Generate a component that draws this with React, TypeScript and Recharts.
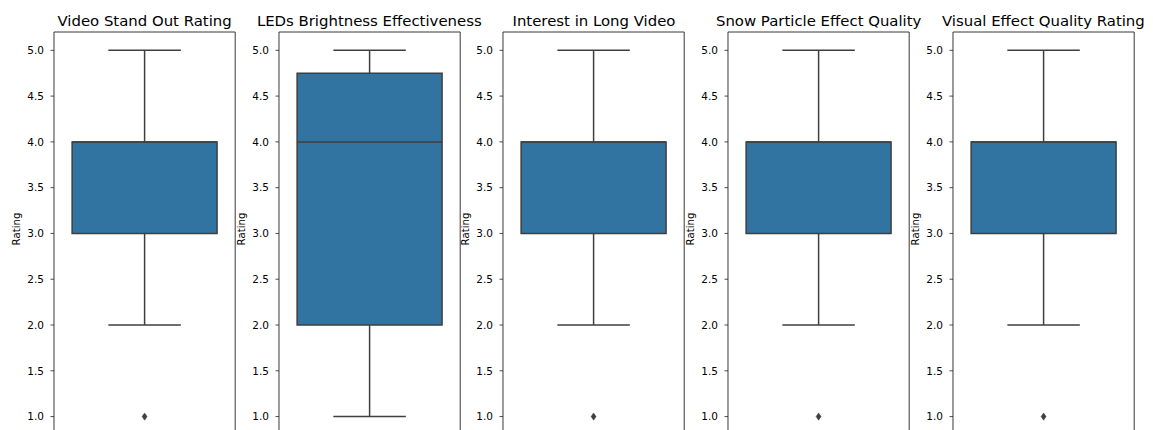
import React from 'react';
import { ComposedChart, XAxis, YAxis, ReferenceArea, ReferenceLine, Scatter } from 'recharts';

const titles = [
  'Video Stand Out Rating',
  'LEDs Brightness Effectiveness',
  'Interest in Long Video',
  'Snow Particle Effect Quality',
  'Visual Effect Quality Rating',
];
const whiskerLow = [2, 1, 2, 2, 2];
const q1 = [3, 2, 3, 3, 3];
const median = [4, 4, 4, 4, 4];
const q3 = [4, 4.75, 4, 4, 4];
const whiskerHigh = [5, 5, 5, 5, 5];
const outliers: number[][] = [[1], [], [1], [1], [1]];
const yTicks = [1.0, 1.5, 2.0, 2.5, 3.0, 3.5, 4.0, 4.5, 5.0];
const yDomain: [number, number] = [0.8, 5.2];

const FONT = '"DejaVu Sans", sans-serif';
const BOX_FILL = '#3274a1';
const LINE = '#3f3f3f';

const PANEL_LEFT0 = 54;
const PANEL_STEP = 224.7;
const PANEL_W = 181.2;
const AXIS_W = 54;
const TOP = 32;
const CHART_H = 460;
const PLOT_BOTTOM = 434.9;

const Diamond = (props: any) => {
  const { cx, cy } = props;
  if (cx == null || cy == null) return null;
  const w = 2.5;
  const h = 3.6;
  return (
    <path
      d={`M${cx},${cy - h} L${cx + w},${cy} L${cx},${cy + h} L${cx - w},${cy} Z`}
      fill={LINE}
      stroke={LINE}
      strokeWidth={0.5}
    />
  );
};

const RatingLabel = (props: any) => {
  const vb = props.viewBox || {};
  const cx = 17;
  const cy = (vb.y ?? TOP) + (vb.height ?? 400) / 2 - 4.5;
  return (
    <text
      x={cx}
      y={cy}
      transform={`rotate(-90 ${cx} ${cy})`}
      textAnchor="middle"
      dominantBaseline="central"
      fontFamily={FONT}
      fontSize={10.2}
      fill="#000"
    >
      Rating
    </text>
  );
};

function Panel({ i }: { i: number }) {
  const left = PANEL_LEFT0 + i * PANEL_STEP - AXIS_W;
  const width = AXIS_W + PANEL_W + 6;
  const outData = outliers[i].map((v) => ({ x: 0, y: v }));
  return (
    <div style={{ position: 'absolute', left, top: 0, width, height: CHART_H }}>
      <div
        style={{
          position: 'absolute',
          left: AXIS_W - 40,
          width: PANEL_W + 80,
          top: 12,
          textAlign: 'center',
          fontFamily: FONT,
          fontSize: 14.9,
          color: '#000',
          whiteSpace: 'nowrap',
          lineHeight: '18px',
        }}
      >
        {titles[i]}
      </div>
      <ComposedChart
        width={width}
        height={CHART_H}
        margin={{ top: TOP, right: 6, bottom: CHART_H - PLOT_BOTTOM, left: 0 }}
        data={outData}
      >
        <XAxis type="number" dataKey="x" domain={[-0.5, 0.5]} hide height={0} allowDataOverflow />
        <YAxis
          type="number"
          dataKey="y"
          domain={yDomain}
          ticks={yTicks}
          allowDataOverflow
          width={AXIS_W}
          tickSize={3.5}
          tickMargin={6.5}
          tickFormatter={(v: number) => v.toFixed(1)}
          tick={{ fontFamily: FONT, fontSize: 10.5, fill: '#000' }}
          axisLine={false}
          tickLine={{ stroke: '#222', strokeWidth: 0.8 }}
          label={<RatingLabel />}
        />
        <ReferenceLine
          segment={[{ x: 0, y: whiskerLow[i] }, { x: 0, y: q1[i] }]}
          stroke={LINE}
          strokeWidth={1.5}
        />
        <ReferenceLine
          segment={[{ x: 0, y: q3[i] }, { x: 0, y: whiskerHigh[i] }]}
          stroke={LINE}
          strokeWidth={1.5}
        />
        <ReferenceLine
          segment={[{ x: -0.2, y: whiskerLow[i] }, { x: 0.2, y: whiskerLow[i] }]}
          stroke={LINE}
          strokeWidth={1.5}
        />
        <ReferenceLine
          segment={[{ x: -0.2, y: whiskerHigh[i] }, { x: 0.2, y: whiskerHigh[i] }]}
          stroke={LINE}
          strokeWidth={1.5}
        />
        <ReferenceArea
          x1={-0.4}
          x2={0.4}
          y1={q1[i]}
          y2={q3[i]}
          fill={BOX_FILL}
          fillOpacity={1}
          stroke={LINE}
          strokeWidth={1.5}
        />
        <ReferenceLine
          segment={[{ x: -0.4, y: median[i] }, { x: 0.4, y: median[i] }]}
          stroke={LINE}
          strokeWidth={1.5}
        />
        <Scatter data={outData} dataKey="y" shape={<Diamond />} isAnimationActive={false} />
        <ReferenceArea
          x1={-0.5}
          x2={0.5}
          y1={yDomain[0]}
          y2={yDomain[1]}
          fill="none"
          fillOpacity={0}
          stroke="#222"
          strokeWidth={0.9}
        />
      </ComposedChart>
    </div>
  );
}

export default function App() {
  return (
    <div style={{ position: 'absolute', left: 0, top: 0, width: 1153, height: 430, overflow: 'hidden', background: '#fff' }}>
      {titles.map((_, i) => (
        <Panel key={i} i={i} />
      ))}
    </div>
  );
}
